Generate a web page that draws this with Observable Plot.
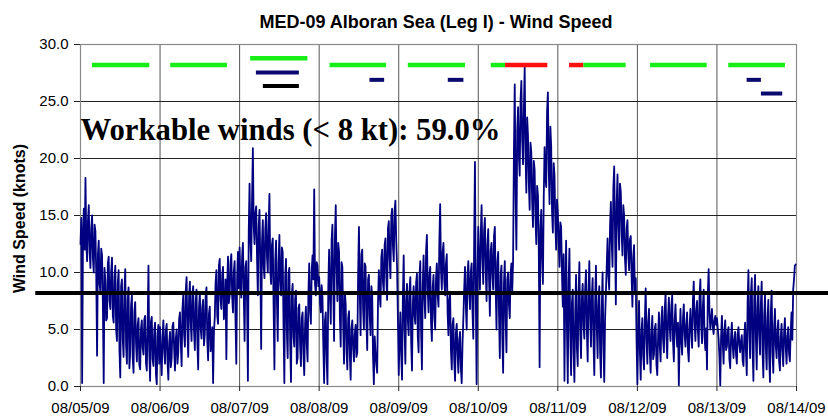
<!DOCTYPE html>
<html>
<head>
<meta charset="utf-8">
<script src="https://cdn.jsdelivr.net/npm/d3@7"></script>
<script src="https://cdn.jsdelivr.net/npm/@observablehq/plot@0.6"></script>
<style>
  html, body { margin: 0; padding: 0; background: #fff; }
  body { width: 828px; height: 420px; overflow: hidden; font-family: "Liberation Sans", Arial, sans-serif; }
  #title { position: relative; height: 36px; }
  #title span { position: absolute; left: 0; width: 872px; top: 13px; line-height: 18px; text-align: center;
    font-size: 18px; font-weight: bold; color: #000; white-space: nowrap; }
  #chart svg { display: block; }
</style>
</head>
<body>
<div id="title"><span>MED-09 Alboran Sea (Leg I) - Wind Speed</span></div>
<div id="chart"></div>
<script>
// ---- data ----
const titleText = "MED-09 Alboran Sea (Leg I) - Wind Speed";
const yLabel = "Wind Speed (knots)";
const annotation = "Workable winds (< 8 kt): 59.0%";
const annotationLevel = 21.6;           // knots, baseline of annotation
const workableLimit = 8.2;              // knots (drawn threshold line)
const limitFrom = "2009-08-04T10:30Z";
const limitTo = "2009-08-14T10:30Z";

const dayTicks = ["2009-08-05","2009-08-06","2009-08-07","2009-08-08","2009-08-09",
                  "2009-08-10","2009-08-11","2009-08-12","2009-08-13","2009-08-14"];
const yTicks = [0, 5, 10, 15, 20, 25, 30];

// wind speed, 15-minute samples per day (knots)
const day1 = [12.5,14.8,0.3,13.2,15.6,12.0,18.3,12.4,11.0,14.6,15.9,11.8,10.4,13.9,15.0,11.2,10.0,14.2,13.6,9.8,2.7,11.6,12.8,9.0,
              8.3,12.1,11.5,7.2,0.3,10.4,9.2,5.8,6.0,10.8,11.4,7.5,6.8,10.1,11.3,6.2,5.6,9.6,10.6,5.0,4.0,9.1,10.2,3.2,
              0.8,8.8,9.4,4.1,2.6,8.2,10.3,3.6,2.0,7.6,8.7,1.6,3.0,7.1,8.0,2.5,1.2,6.6,7.4,3.8,2.2,5.4,6.0,1.9,
              1.5,5.1,5.8,3.4,2.8,5.9,6.2,2.1,1.4,5.3,10.6,3.0,0.5,5.7,6.1,2.4,1.8,4.9,5.6,1.1,0.2,4.6,5.4,2.0];
const day2 = [5.2,2.6,1.0,4.4,5.8,3.1,2.0,4.9,5.5,2.2,0.6,3.8,4.8,1.7,2.5,5.3,5.6,3.3,1.4,4.2,5.0,2.0,3.0,5.9,
              6.5,3.9,1.8,6.8,8.0,4.6,3.5,8.4,9.6,5.0,2.6,7.8,9.2,5.6,4.0,8.1,8.8,4.8,3.2,7.4,8.5,3.9,1.5,6.9,
              8.2,5.1,4.2,7.0,7.6,3.6,4.6,7.9,8.7,4.0,2.3,6.4,7.0,3.1,4.4,5.2,0.3,4.8,6.0,9.1,10.2,6.2,5.5,10.6,
              11.2,7.6,6.8,9.8,10.5,5.9,7.0,9.4,2.4,8.8,11.4,7.3,8.0,10.9,11.6,7.9,6.5,10.1,11.0,6.0,2.0,9.6,11.8,8.6];
const day3 = [12.2,9.0,7.8,11.4,12.6,8.2,4.0,10.5,11.0,7.4,0.5,13.6,17.8,12.8,11.0,16.4,20.9,14.1,12.5,15.2,15.8,11.3,8.0,14.0,
              15.5,10.9,3.3,12.7,14.6,10.6,9.5,13.8,15.2,11.4,10.0,14.3,16.9,10.2,9.0,12.4,13.0,7.1,1.5,11.0,12.8,7.6,4.0,10.9,
              13.3,9.2,8.0,12.2,11.8,5.2,0.3,9.6,11.2,4.8,2.5,9.9,10.4,3.9,0.4,8.1,9.0,4.4,3.5,7.7,8.4,2.0,2.5,6.9,
              7.2,3.6,1.8,6.0,6.5,2.9,1.0,5.5,7.0,3.8,2.2,8.2,10.8,6.6,5.5,10.2,11.5,9.4,17.3,9.0,8.0,10.9,10.6,8.8];
const day4 = [9.6,7.4,6.5,8.9,7.8,3.6,0.3,5.8,6.5,2.4,0.2,8.6,12.0,7.9,5.5,12.8,14.2,8.8,4.0,13.1,15.9,10.4,7.5,12.6,
              11.8,6.1,3.5,10.9,10.5,5.4,2.0,8.3,7.2,3.1,1.5,6.0,6.6,2.8,0.6,5.1,5.8,3.4,2.2,4.6,5.4,2.6,3.0,9.8,
              14.0,8.2,4.5,11.6,12.0,6.8,5.0,10.8,10.5,5.6,3.2,9.4,9.8,6.2,4.5,8.8,8.0,2.6,0.2,4.4,3.0,1.9,1.2,7.4,
              10.2,8.0,7.0,11.3,12.0,9.1,8.2,12.4,13.0,9.6,7.6,13.8,14.5,11.2,9.5,14.9,15.6,12.3,11.0,15.4,16.3,12.8,10.5,6.0];
const day5 = [1.0,4.2,6.5,2.8,0.6,7.9,11.5,5.2,2.0,7.6,9.0,5.8,4.5,8.4,9.6,3.9,1.4,7.2,8.8,6.3,5.5,9.1,9.9,4.4,
              3.0,9.6,11.0,4.8,1.5,8.9,11.5,7.8,6.0,11.9,13.3,8.4,6.5,9.7,10.5,5.6,4.0,8.7,9.8,6.1,5.0,9.5,10.8,8.0,
              7.0,12.6,16.0,10.2,8.5,11.8,12.6,9.2,8.0,10.8,11.6,6.4,4.5,7.6,8.2,3.2,1.5,5.4,6.0,2.2,0.5,4.7,5.5,2.9,
              1.2,4.1,4.8,1.6,0.3,3.8,6.0,8.6,10.5,7.1,5.0,9.8,11.0,8.3,6.8,10.1,10.8,6.6,4.2,12.5,19.7,8.0,0.2,9.5];
const day6 = [14.0,10.6,8.5,13.4,15.9,11.2,9.0,13.7,14.8,10.1,7.5,12.4,13.8,9.4,6.2,11.9,12.6,9.8,8.5,13.2,14.0,8.6,5.0,10.9,
              11.8,6.4,2.5,9.8,10.6,4.3,1.2,9.1,11.0,5.8,3.0,9.4,10.0,7.2,6.0,9.9,10.8,8.4,11.0,20.6,26.5,16.8,12.0,22.4,
              24.5,20.2,18.5,25.1,26.8,21.6,19.5,24.2,28.0,20.4,17.0,23.6,22.0,17.8,15.5,21.4,20.5,16.2,14.0,19.8,19.0,14.8,12.5,17.6,
              16.8,12.0,1.7,13.9,15.5,11.3,9.0,16.6,21.0,18.4,17.5,24.1,25.8,19.2,16.0,22.8,21.0,15.4,13.5,19.6,18.5,14.2,12.0,16.4];
const day7 = [15.2,12.6,10.5,14.4,14.0,9.8,7.0,11.6,0.5,8.4,12.8,5.0,0.3,9.2,12.1,4.6,1.0,7.3,8.5,2.9,0.4,6.6,9.8,3.4,
              1.8,8.1,10.9,4.8,2.5,7.7,9.0,5.3,4.2,8.6,10.2,4.9,2.2,8.3,11.0,6.0,3.5,7.9,9.5,4.1,1.0,7.4,10.6,5.2,
              2.5,7.1,8.8,3.0,0.8,6.8,10.0,3.7,0.4,5.9,8.2,10.6,13.0,9.7,8.5,14.1,16.2,12.7,10.5,17.4,19.3,13.6,7.2,16.1,
              18.6,14.2,12.0,17.8,17.0,13.4,11.5,15.9,15.0,11.2,9.8,13.8,14.6,11.6,10.2,12.9,13.2,9.6,7.0,11.4,12.4,8.1,9.5,4.0];
const day8 = [0.2,4.6,7.5,3.1,0.6,4.9,6.0,2.7,1.5,5.8,8.6,4.2,2.0,5.6,6.8,3.0,1.2,4.7,6.2,2.4,2.8,5.1,5.5,1.9,
              1.0,4.4,6.5,3.6,2.2,5.9,7.0,4.1,3.0,6.7,8.2,4.4,2.5,6.1,7.8,5.2,4.0,7.1,8.0,3.9,2.2,5.8,7.2,4.8,
              3.5,5.6,0.1,4.2,6.8,3.9,2.8,6.0,7.2,4.6,3.5,5.4,6.5,3.2,2.2,5.3,6.8,4.8,3.4,7.6,9.2,5.7,4.0,6.6,
              7.5,4.9,3.5,7.8,9.4,5.3,3.8,7.0,8.5,4.4,3.2,5.1,1.5,8.2,10.3,6.4,5.0,6.0,6.8,5.2,4.6,5.8,6.2,5.4];
const day9 = [6.0,5.1,4.2,2.6,0.1,4.4,6.2,3.9,2.0,4.8,5.8,3.2,3.5,4.9,5.2,2.4,1.6,4.3,5.6,3.6,2.5,4.1,4.8,2.8,
              2.0,4.6,5.2,3.7,3.0,4.0,4.5,2.3,1.8,4.4,5.6,3.0,1.0,7.4,10.2,4.6,2.5,8.1,9.5,3.3,0.5,7.6,9.8,4.2,
              1.5,6.9,8.8,4.5,2.8,7.3,9.2,3.1,0.8,6.2,8.0,3.4,1.5,5.9,7.6,2.6,0.4,6.5,8.4,3.0,1.2,5.2,6.8,3.6,
              2.5,4.9,5.8,2.2,1.4,4.4,5.5,3.2,1.8,4.7,6.0,3.5,2.0,4.3,5.2,2.9,2.2,4.8,6.5,4.1,8.5,9.4,10.6,10.7];

// condition bars at the top of each day
const segStart = ["2009-08-05T03:36Z","2009-08-06T03:13Z","2009-08-07T03:20Z","2009-08-07T05:04Z","2009-08-07T07:10Z",
                  "2009-08-08T03:16Z","2009-08-08T15:19Z","2009-08-09T02:54Z","2009-08-09T14:57Z","2009-08-10T03:55Z",
                  "2009-08-10T08:14Z","2009-08-11T03:32Z","2009-08-11T07:51Z","2009-08-12T03:58Z","2009-08-13T03:33Z",
                  "2009-08-13T09:06Z","2009-08-13T13:25Z"];
const segEnd   = ["2009-08-05T20:54Z","2009-08-06T20:20Z","2009-08-07T20:37Z","2009-08-07T18:02Z","2009-08-07T18:02Z",
                  "2009-08-08T20:21Z","2009-08-08T19:45Z","2009-08-09T20:10Z","2009-08-09T19:40Z","2009-08-10T08:14Z",
                  "2009-08-10T20:59Z","2009-08-11T07:51Z","2009-08-11T20:37Z","2009-08-12T21:03Z","2009-08-13T20:40Z",
                  "2009-08-13T13:25Z","2009-08-13T19:51Z"];
const segLevel = [28.2,28.2,28.8,27.55,26.35,28.2,26.9,28.2,26.9,28.2,28.2,28.2,28.2,28.2,28.2,26.9,25.7];
const segKind  = ["workable","workable","workable","obsA","obsB","workable","obsA","workable","obsA","workable",
                  "rough","rough","workable","workable","workable","obsA","obsA"];

// ---- build ----
const start = new Date(dayTicks[0] + "T00:00Z");
const end = new Date(dayTicks[dayTicks.length - 1] + "T00:00Z");
const days = [day1, day2, day3, day4, day5, day6, day7, day8, day9];
const series = days.flatMap((vals, d) => vals.map((v, i) => ({
  t: new Date(start.getTime() + (d + i / vals.length) * 864e5), v
})));
const tickDates = dayTicks.map(s => new Date(s + "T00:00Z"));
const segments = segStart.map((s, i) => ({
  x1: new Date(s), x2: new Date(segEnd[i]), y: segLevel[i], kind: segKind[i]
}));
const limit = [{y: workableLimit, x1: new Date(limitFrom), x2: new Date(limitTo)}];

const chart = Plot.plot({
  width: 828,
  height: 384,
  marginTop: 8,
  marginLeft: 80,
  marginRight: 32,
  marginBottom: 34,
  style: {fontFamily: "'Liberation Sans', Arial, sans-serif", fontSize: "15px", overflow: "visible", background: "#fff", color: "#000"},
  x: {type: "utc", domain: [start, end]},
  y: {domain: [0, 30]},
  color: {type: "ordinal", domain: ["workable", "obsA", "obsB", "rough"], range: ["#16ee16", "#0a0a6e", "#000000", "#ff1010"]},
  marks: [
    Plot.gridX(tickDates, {stroke: "#555", strokeOpacity: 1, strokeWidth: 1}),
    Plot.gridY(yTicks, {stroke: "#222", strokeOpacity: 1, strokeWidth: 1}),
    Plot.frame({stroke: "#8a8a8a", strokeWidth: 1.2}),
    Plot.axisY(yTicks, {tickSize: 6, tickPadding: 6, tickFormat: d3.format(".1f"), fontSize: 15, label: null, stroke: "#222"}),
    Plot.axisX(tickDates, {tickSize: 5, tickPadding: 11, tickFormat: d3.utcFormat("%m/%d/%y"), fontSize: 15, label: null, stroke: "#222"}),
    Plot.text([yLabel], {frameAnchor: "left", textAnchor: "middle", dx: -61, dy: 3, rotate: -90, fontWeight: "bold", fontSize: 16}),
    Plot.lineY(series, {x: "t", y: "v", stroke: "#000080", strokeWidth: 1.8, curve: "linear"}),
    Plot.ruleY(limit, {y: "y", x1: "x1", x2: "x2", stroke: "#000", strokeWidth: 4}),
    Plot.ruleY(segments.filter(d => d.kind === "workable" || d.kind === "rough"), {y: "y", x1: "x1", x2: "x2", stroke: "kind", strokeWidth: 4.5}),
    Plot.ruleY(segments.filter(d => d.kind === "obsA" || d.kind === "obsB"), {y: "y", x1: "x1", x2: "x2", stroke: "kind", strokeWidth: 4}),
    Plot.text([annotation], {x: () => start, y: () => annotationLevel, text: d => d, textAnchor: "start", lineAnchor: "bottom",
      fontFamily: "'Liberation Serif', 'Times New Roman', serif", fontWeight: "bold", fontSize: 31, className: "anno"})
  ]
});
document.getElementById("chart").appendChild(chart);
const anno = chart.querySelector(".anno text");
if (anno) { anno.setAttribute("textLength", "420"); anno.setAttribute("lengthAdjust", "spacingAndGlyphs"); }
</script>
</body>
</html>
